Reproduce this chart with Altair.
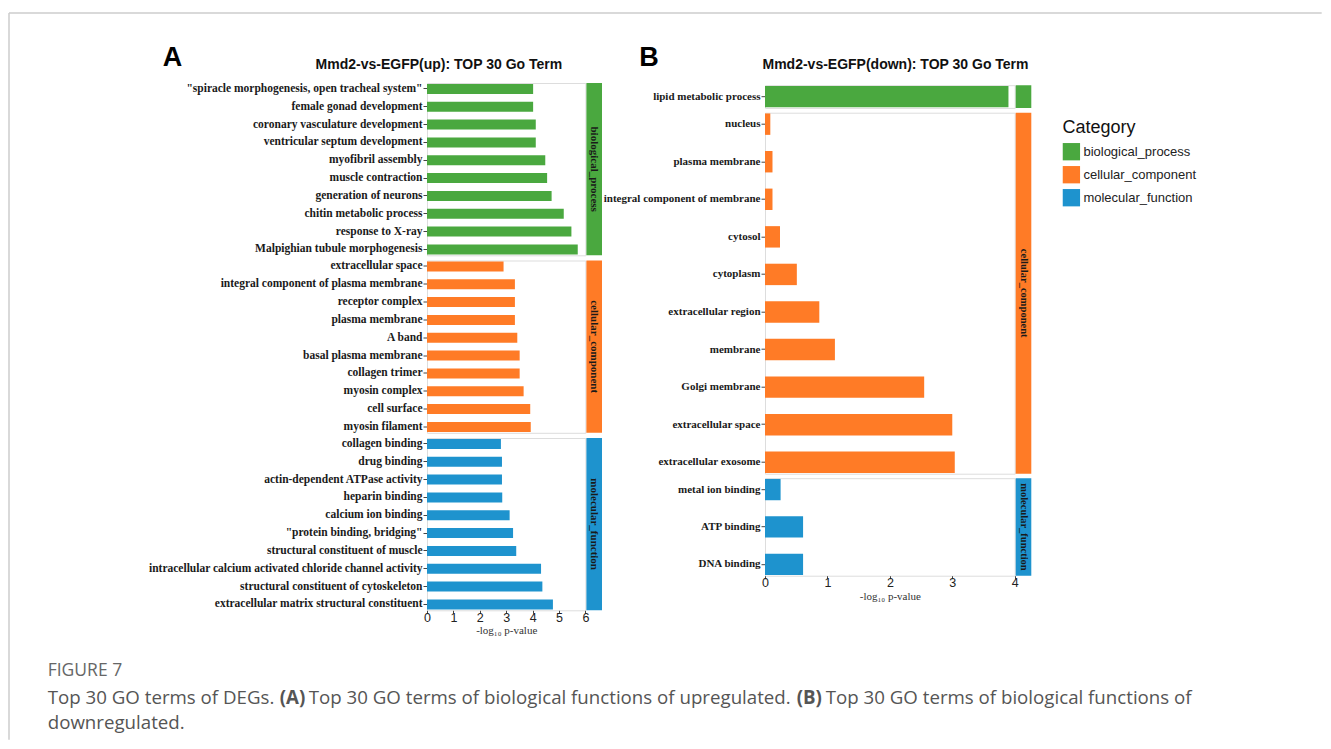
import altair as alt
import pandas as pd

CATS = ["biological_process", "cellular_component", "molecular_function"]
COLORS = ["#4AA83F", "#FF7B26", "#1E93CE"]

A_BP_TERMS = ['"spiracle morphogenesis, open tracheal system"', "female gonad development",
              "coronary vasculature development", "ventricular septum development",
              "myofibril assembly", "muscle contraction", "generation of neurons",
              "chitin metabolic process", "response to X-ray", "Malpighian tubule morphogenesis"]
A_BP_VALS = [4.02, 4.02, 4.12, 4.12, 4.48, 4.55, 4.72, 5.18, 5.47, 5.71]

A_CC_TERMS = ["extracellular space", "integral component of plasma membrane", "receptor complex",
              "plasma membrane", "A band", "basal plasma membrane", "collagen trimer",
              "myosin complex", "cell surface", "myosin filament"]
A_CC_VALS = [2.90, 3.33, 3.33, 3.33, 3.42, 3.51, 3.51, 3.66, 3.91, 3.93]

A_MF_TERMS = ["collagen binding", "drug binding", "actin-dependent ATPase activity", "heparin binding",
              "calcium ion binding", '"protein binding, bridging"', "structural constituent of muscle",
              "intracellular calcium activated chloride channel activity",
              "structural constituent of cytoskeleton", "extracellular matrix structural constituent"]
A_MF_VALS = [2.80, 2.84, 2.84, 2.85, 3.13, 3.26, 3.38, 4.32, 4.37, 4.77]

B_BP_TERMS = ["lipid metabolic process"]
B_BP_VALS = [3.90]

B_CC_TERMS = ["nucleus", "plasma membrane", "integral component of membrane", "cytosol", "cytoplasm",
              "extracellular region", "membrane", "Golgi membrane", "extracellular space",
              "extracellular exosome"]
B_CC_VALS = [0.085, 0.12, 0.12, 0.24, 0.51, 0.87, 1.12, 2.55, 3.00, 3.04]

B_MF_TERMS = ["metal ion binding", "ATP binding", "DNA binding"]
B_MF_VALS = [0.25, 0.61, 0.61]

SERIF = "Liberation Serif"
SANS = "Liberation Sans"
CAPFONT = "Open Sans"

LEGEND = alt.Legend(title="Category", orient="none", legendX=635.4, legendY=35.7,
                    titleFont=SANS, titleFontSize=18, titleFontWeight="normal", titleColor="#111",
                    titlePadding=6, labelFont=SANS, labelFontSize=13, labelColor="#222",
                    labelOffset=3, symbolType="square", symbolSize=300, symbolStrokeWidth=0,
                    rowPadding=5, padding=0)


def note(text, x, y, size, weight="normal", font=SANS, color="#111", align="left",
         baseline="alphabetic", angle=0):
    return alt.Chart(pd.DataFrame({"t": [text]})).mark_text(
        align=align, baseline=baseline, font=font, fontSize=size, fontWeight=weight,
        color=color, angle=angle).encode(text="t:N", x=alt.value(x), y=alt.value(y))


def group(terms, vals, ci, width, height, xmax, bottom, label_size, strip_label, strip_size,
          pi, po, extra=()):
    df = pd.DataFrame({"term": terms, "value": vals, "Category": [CATS[ci]] * len(terms)})
    if bottom:
        xaxis = alt.Axis(values=list(range(xmax + 1)), format="d", domain=False, grid=False,
                         ticks=True, tickSize=3, tickColor="#444", labelFont=SANS,
                         labelFontSize=12.5, labelColor="#222", labelPadding=-2, labelFlush=False,
                         title="-log₁₀ p-value", titleFont=SERIF, titleFontSize=11,
                         titleFontWeight="normal", titleColor="#333", titlePadding=1)
    else:
        xaxis = None
    yaxis = alt.Axis(domain=False, grid=False, ticks=True, tickSize=4, tickColor="#444",
                     labelFont=SERIF, labelFontWeight="bold", labelFontSize=label_size,
                     labelColor="#1a1a1a", labelPadding=1, labelLimit=600, title=None)
    bars = alt.Chart(df).mark_bar().encode(
        x=alt.X("value:Q", scale=alt.Scale(domain=[0, xmax], nice=False, zero=True), axis=xaxis),
        y=alt.Y("term:N", sort=terms, scale=alt.Scale(paddingInner=pi, paddingOuter=po), axis=yaxis),
        color=alt.Color("Category:N", scale=alt.Scale(domain=CATS, range=COLORS), legend=LEGEND),
    )
    sdf = pd.DataFrame({"lab": [strip_label]})
    rect = alt.Chart(sdf).mark_rect(color=COLORS[ci]).encode(
        x=alt.value(width + 1), x2=alt.value(width + 16.6), y=alt.value(0), y2=alt.value(height))
    layers = [bars, rect]
    if strip_size > 0:
        layers.append(alt.Chart(sdf).mark_text(angle=90, font=SERIF, fontWeight="bold",
                                                fontSize=strip_size, color="#1a1a1a",
                                                align="center", baseline="middle").encode(
            text="lab:N", x=alt.value(width + 8.8), y=alt.value(height / 2)))
    layers.extend(extra)
    return alt.layer(*layers).properties(width=width, height=height)


WA = 158.4
HA = 172.3
WB = 249.7
GAP_AB = 179.6

# Annotations attached to panel A top group (origin = its plot area's top-left corner)
OX = 427.3
OY = 83.3
CY = 1.5   # caption vertical correction
CS = 18.7  # caption font size
a_notes = [
    alt.Chart(pd.DataFrame({"t": [0]})).mark_rule(color="#cdcdcd", strokeWidth=1.5).encode(
        x=alt.value(-418), y=alt.value(-70), y2=alt.value(656.7)),
    alt.Chart(pd.DataFrame({"t": [0]})).mark_rule(color="#cdcdcd", strokeWidth=1.5).encode(
        x=alt.value(-418), x2=alt.value(894.7), y=alt.value(-70)),
    note("A", 163 - OX, 66.5 - OY, 27, weight="bold", color="#000"),
    note("Mmd2-vs-EGFP(up): TOP 30 Go Term", 439.2 - OX, 69.3 - OY, 14, weight="bold",
         color="#111", align="center"),
    note("FIGURE 7", 48 - OX, 675 - OY + CY, 17.5, font=CAPFONT, color="#666"),
    note("Top 30 GO terms of DEGs.", 48 - OX, 703 - OY + CY, CS, font=CAPFONT, color="#555"),
    note("(A)", 280 - OX, 703 - OY + CY, CS, font=CAPFONT, weight="bold", color="#555"),
    note("Top 30 GO terms of biological functions of upregulated.", 309 - OX, 703 - OY + CY, CS,
         font=CAPFONT, color="#555"),
    note("(B)", 797 - OX, 703 - OY + CY, CS, font=CAPFONT, weight="bold", color="#555"),
    note("Top 30 GO terms of biological functions of", 826 - OX, 703 - OY + CY, CS,
         font=CAPFONT, color="#555"),
    note("downregulated.", 48 - OX, 728 - OY + CY, CS, font=CAPFONT, color="#555"),
]

BX = 765.3
BY = 85.7
b_notes = [
    note("B", 639.5 - BX, 66.5 - BY, 27, weight="bold", color="#000"),
    note("Mmd2-vs-EGFP(down): TOP 30 Go Term", 895.8 - BX, 69.3 - BY, 14, weight="bold",
         color="#111", align="center"),
]

a_bp = group(A_BP_TERMS, A_BP_VALS, 0, WA, HA, 6, False, 11.5, "biological_process", 11,
             0.44, 0.05, a_notes)
a_cc = group(A_CC_TERMS, A_CC_VALS, 1, WA, HA, 6, False, 11.5, "cellular_component", 11, 0.44, 0.05)
a_mf = group(A_MF_TERMS, A_MF_VALS, 2, WA, HA, 6, True, 11.5, "molecular_function", 11, 0.44, 0.05)

b_bp = group(B_BP_TERMS, B_BP_VALS, 0, WB, 22.7, 4, False, 11, "biological_process", 0,
             0.43, 0.02, b_notes)
b_cc = group(B_CC_TERMS, B_CC_VALS, 1, WB, 361, 4, False, 11, "cellular_component", 10.5, 0.43, 0.02)
b_mf = group(B_MF_TERMS, B_MF_VALS, 2, WB, 97.5, 4, True, 11, "molecular_function", 10.5, 0.43, 0.02)

spacer = alt.Chart(pd.DataFrame({"v": [0]})).mark_point(opacity=0).encode(
    x=alt.value(0), y=alt.value(0)).properties(width=10, height=1,
                                               view=alt.ViewBackground(strokeOpacity=0))

panel_a = alt.vconcat(a_bp, a_cc, a_mf, spacing=4.5, bounds="flush")
panel_b_inner = alt.vconcat(b_bp, b_cc, b_mf, spacing=4.5, bounds="flush")
panel_b = alt.vconcat(spacer, panel_b_inner, spacing=1.2, bounds="flush")

# nested concat groups count as zero-width under flush bounds, so the spacing spans panel A's width
chart = alt.hconcat(panel_a, panel_b, spacing=WA + GAP_AB, bounds="flush").properties(
    padding={"left": -1, "top": 3, "right": 0, "bottom": 0}
).configure_view(stroke="#505050", strokeWidth=1.5).configure(background="white")

chart.save("out.html", embed_options={"renderer": "svg", "actions": False})
